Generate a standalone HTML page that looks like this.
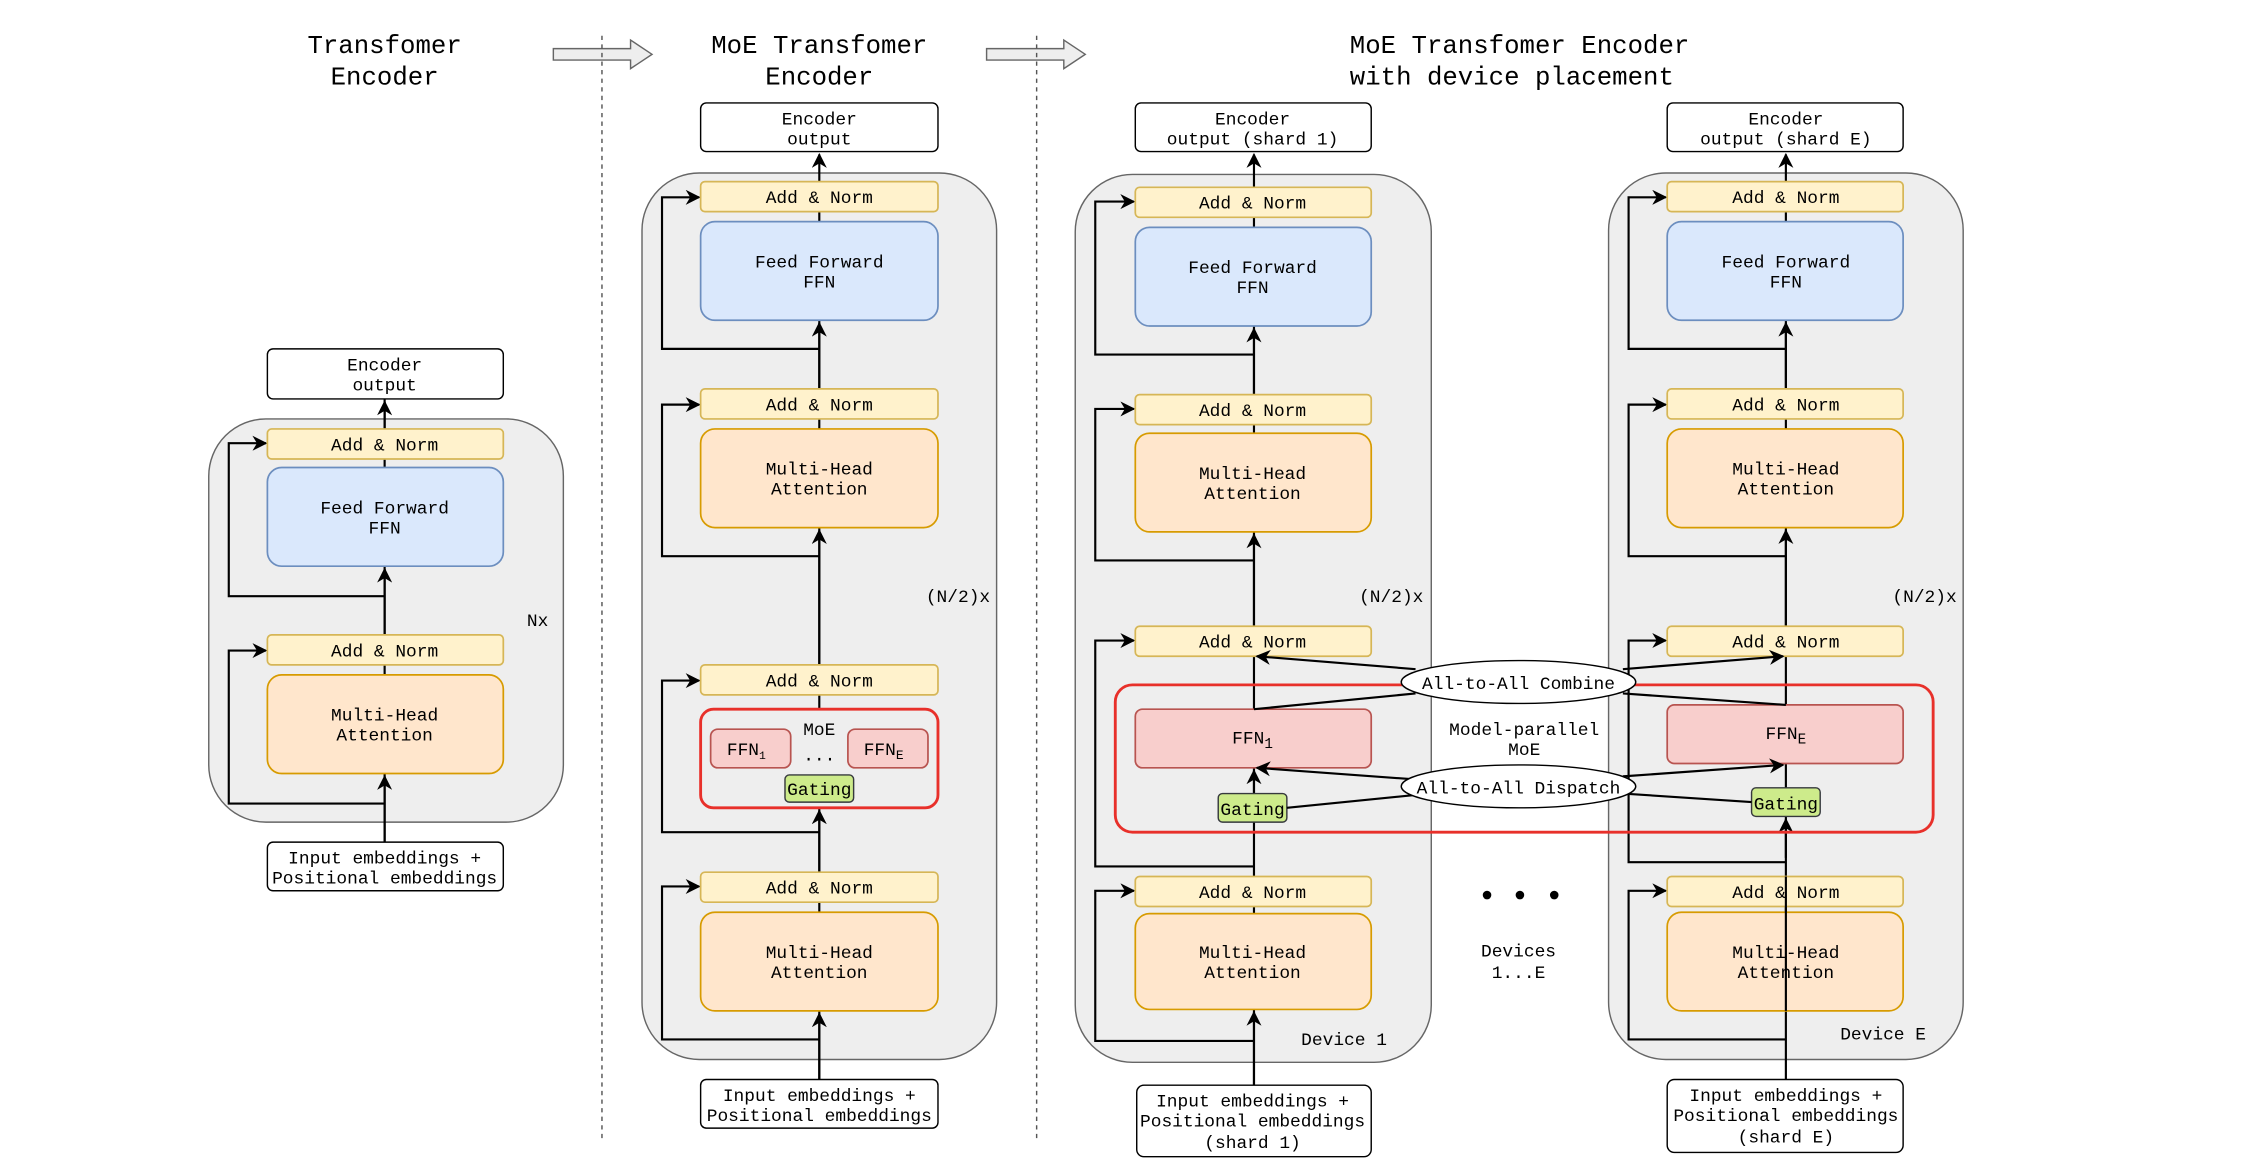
<!DOCTYPE html>
<html><head><meta charset="utf-8"><style>
html,body{margin:0;padding:0;background:#fff}
svg{display:block}
text{font-family:"Liberation Mono","DejaVu Sans Mono",monospace;font-size:12.5px;fill:#000;text-anchor:middle}
.t{font-size:18px}
.an{fill:#fff2cc;stroke:#d6b656;stroke-width:1.2}
.ff{fill:#dae8fc;stroke:#6c8ebf;stroke-width:1.2}
.mh{fill:#ffe6cc;stroke:#d79b00;stroke-width:1.2}
.wb{fill:#fff;stroke:#000;stroke-width:1}
.ct{fill:#eeeeee;stroke:#666;stroke-width:1}
.fn{fill:#f8cecc;stroke:#b85450;stroke-width:1.2}
.gt{fill:#cdeb8b;stroke:#36393d;stroke-width:1}
.ln{fill:none;stroke:#000;stroke-width:1.5}
</style></head><body>
<svg width="2242" height="1166" viewBox="0 0 1568 815.5" preserveAspectRatio="none" xmlns="http://www.w3.org/2000/svg">
<defs><marker id="a" viewBox="0 0 10 10" refX="9" refY="5" markerWidth="7" markerHeight="7" orient="auto"><path d="M0,0 L10,5 L0,10 L3,5 z" fill="#000"/></marker></defs>

<!-- titles -->
<text class="t" x="269" y="37">Transfomer</text><text class="t" x="269" y="59">Encoder</text>
<text class="t" x="573" y="37">MoE Transfomer</text><text class="t" x="573" y="59">Encoder</text>
<text class="t" x="944" y="37" style="text-anchor:start">MoE Transfomer Encoder</text>
<text class="t" x="944" y="59" style="text-anchor:start">with device placement</text>
<path d="M387,34 H441 V28 L456,38 L441,48 V42 H387 Z" fill="#eee" stroke="#666"/>
<path d="M690,34 H744 V28 L759,38 L744,48 V42 H690 Z" fill="#eee" stroke="#666"/>
<line x1="421" y1="25" x2="421" y2="797" stroke="#555" stroke-dasharray="3,3"/>
<line x1="725" y1="25" x2="725" y2="797" stroke="#555" stroke-dasharray="3,3"/>

<!-- column 1 -->
<rect class="ct" x="146" y="293" width="248" height="282" rx="40"/>
<rect class="wb" x="187" y="244" width="165" height="35" rx="4"/><text x="269" y="259">Encoder</text><text x="269" y="273">output</text>
<path class="ln" d="M269,589 V541 M269,472 V465 M269,444 V396 M269,327 V321 M269,300 V279"/>
<path class="ln" d="M269,589 V543" marker-end="url(#a)"/>
<path class="ln" d="M269,444 V398" marker-end="url(#a)"/>
<path class="ln" d="M269,300 V281" marker-end="url(#a)"/>
<path class="ln" d="M269,562 H160 V455 H186" marker-end="url(#a)"/>
<path class="ln" d="M269,417 H160 V310 H186" marker-end="url(#a)"/>
<rect class="an" x="187" y="300" width="165" height="21" rx="3"/><text x="269" y="315">Add &amp; Norm</text>
<rect class="ff" x="187" y="327" width="165" height="69" rx="10"/><text x="269" y="359">Feed Forward</text><text x="269" y="373">FFN</text>
<rect class="an" x="187" y="444" width="165" height="21" rx="3"/><text x="269" y="459">Add &amp; Norm</text>
<rect class="mh" x="187" y="472" width="165" height="69" rx="10"/><text x="269" y="504">Multi-Head</text><text x="269" y="518">Attention</text>
<rect class="wb" x="187" y="589" width="165" height="34" rx="4"/><text x="269" y="604">Input embeddings +</text><text x="269" y="618">Positional embeddings</text>
<text x="376" y="438">Nx</text>

<!-- column 2 -->
<rect class="ct" x="449" y="121" width="248" height="620" rx="40"/>
<rect class="wb" x="490" y="72" width="166" height="34" rx="4"/><text x="573" y="87">Encoder</text><text x="573" y="101">output</text>
<path class="ln" d="M573,755 V565 M573,496 V486 M573,465 V369 M573,300 V293 M573,272 V224 M573,155 V148"/>
<path class="ln" d="M573,755 V709" marker-end="url(#a)"/>
<path class="ln" d="M573,610 V567" marker-end="url(#a)"/>
<path class="ln" d="M573,465 V371" marker-end="url(#a)"/>
<path class="ln" d="M573,272 V226" marker-end="url(#a)"/>
<path class="ln" d="M573,127 V108" marker-end="url(#a)"/>
<path class="ln" d="M573,727 H463 V620 H489" marker-end="url(#a)"/>
<path class="ln" d="M573,582 H463 V476 H489" marker-end="url(#a)"/>
<path class="ln" d="M573,389 H463 V283 H489" marker-end="url(#a)"/>
<path class="ln" d="M573,244 H463 V138 H489" marker-end="url(#a)"/>
<rect class="an" x="490" y="127" width="166" height="21" rx="3"/><text x="573" y="142">Add &amp; Norm</text>
<rect class="ff" x="490" y="155" width="166" height="69" rx="10"/><text x="573" y="187">Feed Forward</text><text x="573" y="201">FFN</text>
<rect class="an" x="490" y="272" width="166" height="21" rx="3"/><text x="573" y="287">Add &amp; Norm</text>
<rect class="mh" x="490" y="300" width="166" height="69" rx="10"/><text x="573" y="332">Multi-Head</text><text x="573" y="346">Attention</text>
<text x="670" y="421">(N/2)x</text>
<rect class="an" x="490" y="465" width="166" height="21" rx="3"/><text x="573" y="480">Add &amp; Norm</text>
<rect x="490" y="496" width="166" height="69" rx="9" fill="none" stroke="#e8302a" stroke-width="2"/>
<rect class="fn" x="497" y="510" width="56" height="27" rx="5"/><text x="522" y="528">FFN<tspan font-size="8" dy="3">1</tspan></text>
<rect class="fn" x="593" y="510" width="56" height="27" rx="5"/><text x="618" y="528">FFN<tspan font-size="9" dy="3">E</tspan></text>
<text x="573" y="514">MoE</text><text x="573" y="532">...</text>
<rect class="gt" x="549" y="542" width="48" height="19" rx="3"/><text x="573" y="556">Gating</text>
<rect class="an" x="490" y="610" width="166" height="21" rx="3"/><text x="573" y="625">Add &amp; Norm</text>
<rect class="mh" x="490" y="638" width="166" height="69" rx="10"/><text x="573" y="670">Multi-Head</text><text x="573" y="684">Attention</text>
<rect class="wb" x="490" y="755" width="166" height="34" rx="4"/><text x="573" y="770">Input embeddings +</text><text x="573" y="784">Positional embeddings</text>

<!-- column 3 -->
<rect class="ct" x="752" y="122" width="249" height="621" rx="40"/>
<rect class="wb" x="794" y="72" width="165" height="34" rx="4"/><text x="876" y="87">Encoder</text><text x="876" y="101">output (shard 1)</text>
<path class="ln" d="M877,759 V706 M877,639 V634 M877,613 V575 M877,555 V537 M877,496 V459 M877,438 V372 M877,303 V297 M877,276 V228 M877,159 V152"/>
<path class="ln" d="M877,759 V708" marker-end="url(#a)"/>
<path class="ln" d="M877,555 V539" marker-end="url(#a)"/>
<path class="ln" d="M877,438 V374" marker-end="url(#a)"/>
<path class="ln" d="M877,276 V230" marker-end="url(#a)"/>
<path class="ln" d="M877,131 V108" marker-end="url(#a)"/>
<path class="ln" d="M877,728 H766 V623 H793" marker-end="url(#a)"/>
<path class="ln" d="M877,606 H766 V448 H793" marker-end="url(#a)"/>
<path class="ln" d="M877,392 H766 V286 H793" marker-end="url(#a)"/>
<path class="ln" d="M877,248 H766 V141 H793" marker-end="url(#a)"/>
<rect class="an" x="794" y="131" width="165" height="21" rx="3"/><text x="876" y="146">Add &amp; Norm</text>
<rect class="ff" x="794" y="159" width="165" height="69" rx="10"/><text x="876" y="191">Feed Forward</text><text x="876" y="205">FFN</text>
<rect class="an" x="794" y="276" width="165" height="21" rx="3"/><text x="876" y="291">Add &amp; Norm</text>
<rect class="mh" x="794" y="303" width="165" height="69" rx="10"/><text x="876" y="335">Multi-Head</text><text x="876" y="349">Attention</text>
<text x="973" y="421">(N/2)x</text>
<rect class="an" x="794" y="438" width="165" height="21" rx="3"/><text x="876" y="453">Add &amp; Norm</text>
<rect class="an" x="794" y="613" width="165" height="21" rx="3"/><text x="876" y="628">Add &amp; Norm</text>
<rect class="mh" x="794" y="639" width="165" height="67" rx="10"/><text x="876" y="670">Multi-Head</text><text x="876" y="684">Attention</text>
<text x="940" y="731">Device 1</text>
<rect class="wb" x="795" y="759" width="164" height="50" rx="5"/><text x="876" y="774">Input embeddings +</text><text x="876" y="788">Positional embeddings</text><text x="876" y="803">(shard 1)</text>

<!-- column 4 -->
<rect class="ct" x="1125" y="121" width="248" height="620" rx="40"/>
<rect class="wb" x="1166" y="72" width="165" height="34" rx="4"/><text x="1249" y="87">Encoder</text><text x="1249" y="101">output (shard E)</text>
<path class="ln" d="M1249,755 V571 M1249,551 V534 M1249,493 V459 M1249,438 V369 M1249,300 V293 M1249,272 V224 M1249,155 V148"/>
<path class="ln" d="M1249,600 V573" marker-end="url(#a)"/>
<path class="ln" d="M1249,438 V371" marker-end="url(#a)"/>
<path class="ln" d="M1249,272 V226" marker-end="url(#a)"/>
<path class="ln" d="M1249,127 V108" marker-end="url(#a)"/>
<path class="ln" d="M1249,727 H1139 V623 H1165" marker-end="url(#a)"/>
<path class="ln" d="M1249,603 H1139 V448 H1165" marker-end="url(#a)"/>
<path class="ln" d="M1249,389 H1139 V283 H1165" marker-end="url(#a)"/>
<path class="ln" d="M1249,244 H1139 V138 H1165" marker-end="url(#a)"/>
<rect class="an" x="1166" y="127" width="165" height="21" rx="3"/><text x="1249" y="142">Add &amp; Norm</text>
<rect class="ff" x="1166" y="155" width="165" height="69" rx="10"/><text x="1249" y="187">Feed Forward</text><text x="1249" y="201">FFN</text>
<rect class="an" x="1166" y="272" width="165" height="21" rx="3"/><text x="1249" y="287">Add &amp; Norm</text>
<rect class="mh" x="1166" y="300" width="165" height="69" rx="10"/><text x="1249" y="332">Multi-Head</text><text x="1249" y="346">Attention</text>
<text x="1346" y="421">(N/2)x</text>
<rect class="an" x="1166" y="438" width="165" height="21" rx="3"/><text x="1249" y="453">Add &amp; Norm</text>
<rect class="an" x="1166" y="613" width="165" height="21" rx="3"/><text x="1249" y="628">Add &amp; Norm</text>
<rect class="mh" x="1166" y="638" width="165" height="69" rx="10"/><text x="1249" y="670">Multi-Head</text><text x="1249" y="684">Attention</text>
<line x1="1249" y1="613" x2="1249" y2="707" stroke="#000" stroke-width="1.5"/>
<text x="1317" y="727">Device E</text>
<rect class="wb" x="1166" y="755" width="165" height="51" rx="5"/><text x="1249" y="770">Input embeddings +</text><text x="1249" y="784">Positional embeddings</text><text x="1249" y="799">(shard E)</text>

<!-- model-parallel MoE -->
<rect x="780" y="479" width="572" height="103" rx="12" fill="none" stroke="#e8302a" stroke-width="2"/>
<rect class="fn" x="794" y="496" width="165" height="41" rx="5"/><text x="876" y="520">FFN<tspan font-size="10" dy="3">1</tspan></text>
<rect class="fn" x="1166" y="493" width="165" height="41" rx="5"/><text x="1249" y="517">FFN<tspan font-size="10" dy="3">E</tspan></text>
<rect class="gt" x="852" y="555" width="48" height="20" rx="3"/><text x="876" y="570">Gating</text>
<rect class="gt" x="1225" y="551" width="48" height="20" rx="3"/><text x="1249" y="566">Gating</text>
<path class="ln" d="M990,468 L879,459" marker-end="url(#a)"/>
<path class="ln" d="M877,496 L990,485"/>
<path class="ln" d="M1135,468 L1247,459" marker-end="url(#a)"/>
<path class="ln" d="M1135,485 L1249,493"/>
<path class="ln" d="M988,545 L879,537" marker-end="url(#a)"/>
<path class="ln" d="M900,565 L990,556"/>
<path class="ln" d="M1135,543 L1247,535" marker-end="url(#a)"/>
<path class="ln" d="M1135,555 L1225,561"/>
<ellipse cx="1062" cy="477" rx="82" ry="15" fill="#fff" stroke="#000"/><text x="1062" y="482">All-to-All Combine</text>
<ellipse cx="1062" cy="550" rx="82" ry="15" fill="#fff" stroke="#000"/><text x="1062" y="555">All-to-All Dispatch</text>
<text x="1066" y="514">Model-parallel</text><text x="1066" y="528">MoE</text>
<circle cx="1040" cy="626" r="3"/><circle cx="1063" cy="626" r="3"/><circle cx="1087" cy="626" r="3"/>
<text x="1062" y="669">Devices</text><text x="1062" y="684">1...E</text>
</svg>
</body></html>
